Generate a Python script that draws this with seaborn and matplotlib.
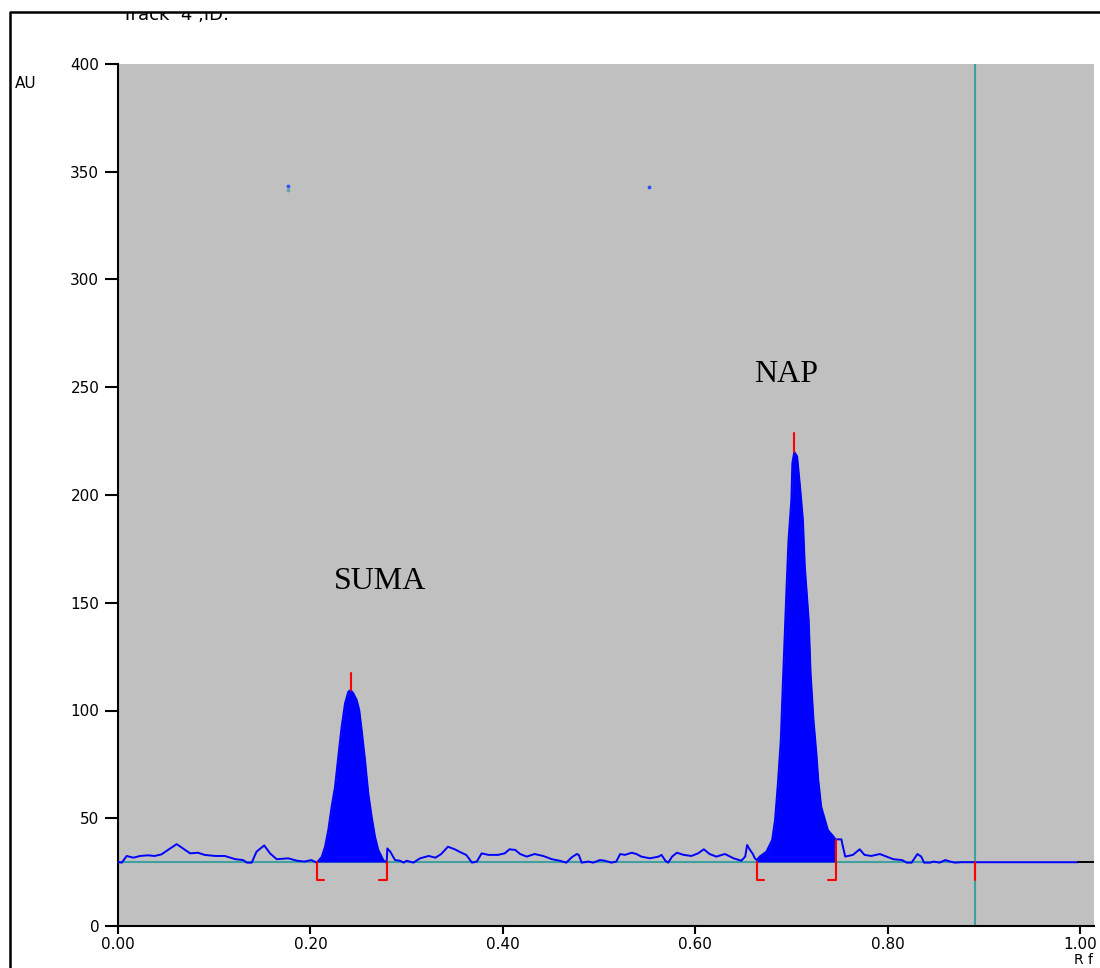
import numpy as np
import pandas as pd
import seaborn as sns
import matplotlib.pyplot as plt
from matplotlib.patches import Rectangle
from matplotlib.lines import Line2D

# densitogram trace (Rf, AU)
rf_pre = [0.000, 0.004, 0.009, 0.016, 0.023, 0.031, 0.038, 0.045, 0.061, 0.075, 0.083, 0.090,
          0.101, 0.111, 0.122, 0.130, 0.134, 0.139, 0.144, 0.152, 0.158, 0.165, 0.177, 0.186,
          0.194, 0.201]
au_pre = [29.7, 29.4, 32.5, 31.7, 32.5, 32.8, 32.5, 33.2, 38.0, 33.7, 34.0, 33.0,
          32.5, 32.5, 31.0, 30.6, 29.4, 29.4, 34.5, 37.4, 33.7, 31.0, 31.4, 30.3,
          29.9, 30.6]

rf_suma = [0.2066, 0.2117, 0.2152, 0.2186, 0.2221, 0.2256, 0.2290, 0.2325, 0.2360, 0.2394,
           0.2419, 0.2446, 0.2481, 0.2508, 0.2533, 0.2568, 0.2602, 0.2637, 0.2672, 0.2706,
           0.2758, 0.2793]
au_suma = [29.4, 32.0, 36.8, 44.5, 55.4, 64.6, 78.6, 92.5, 103.3, 108.7,
           109.5, 108.0, 104.9, 100.2, 91.0, 77.0, 61.6, 50.7, 41.4, 35.3,
           30.6, 29.4]

rf_mid = [0.280, 0.283, 0.288, 0.293, 0.297, 0.300, 0.307, 0.314, 0.323, 0.330, 0.336, 0.343,
          0.350, 0.357, 0.362, 0.368, 0.373, 0.378, 0.385, 0.395, 0.402, 0.407, 0.413, 0.418,
          0.425, 0.433, 0.442, 0.451, 0.459, 0.466, 0.472, 0.477, 0.479, 0.482, 0.489, 0.494,
          0.501, 0.506, 0.513, 0.518, 0.522, 0.527, 0.534, 0.539, 0.544, 0.553, 0.562, 0.565,
          0.569, 0.572, 0.576, 0.581, 0.588, 0.596, 0.603, 0.609, 0.615, 0.622, 0.631, 0.640,
          0.648, 0.652, 0.654, 0.657, 0.660, 0.662]
au_mid = [36.0, 34.5, 30.6, 30.3, 29.4, 30.3, 29.4, 31.4, 32.5, 31.7, 33.4, 36.8,
          35.6, 34.0, 33.0, 29.4, 29.9, 33.7, 33.0, 33.0, 33.7, 35.6, 35.3, 33.4,
          32.2, 33.4, 32.5, 31.0, 30.3, 29.4, 32.0, 33.4, 33.0, 29.4, 29.9, 29.4,
          30.6, 30.3, 29.4, 29.9, 33.4, 33.0, 34.0, 33.4, 32.2, 31.4, 32.2, 33.0,
          30.3, 29.4, 32.2, 34.0, 33.0, 32.5, 33.7, 35.6, 33.4, 32.2, 33.4, 31.4,
          30.3, 32.2, 37.6, 35.3, 33.4, 31.4]

rf_nap = [0.664, 0.667, 0.674, 0.680, 0.683, 0.686, 0.689, 0.691, 0.693, 0.695, 0.697, 0.700,
          0.701, 0.703, 0.706, 0.709, 0.712, 0.714, 0.718, 0.720, 0.723, 0.726, 0.728, 0.731,
          0.735, 0.738, 0.744, 0.746]
au_nap = [30.6, 32.2, 34.5, 39.9, 49.2, 66.2, 86.3, 111.0, 134.2, 157.4, 179.0, 197.7,
          214.7, 220.0, 217.9, 203.9, 188.4, 166.7, 142.0, 117.3, 95.6, 80.1, 67.7, 55.4,
          49.2, 44.5, 41.4, 39.9]

rf_post = [0.747, 0.752, 0.753, 0.756, 0.764, 0.771, 0.776, 0.783, 0.792, 0.799, 0.806, 0.815,
           0.820, 0.825, 0.831, 0.835, 0.838, 0.844, 0.848, 0.854, 0.860, 0.865, 0.870, 0.877,
           0.891, 0.998]
au_post = [40.2, 40.2, 38.0, 32.2, 33.0, 35.6, 33.0, 32.5, 33.4, 32.2, 31.0, 30.6,
           29.4, 29.4, 33.4, 32.2, 29.4, 29.4, 29.9, 29.4, 30.6, 29.9, 29.4, 29.6,
           29.6, 29.6]

baseline = 29.7
front_rf = 0.891
peak_names = ["SUMA", "NAP"]
peak_label_pos = [(0.272, 160), (0.695, 256)]
peak_top = [(0.2419, 109.5, 117.4), (0.703, 220.0, 228.8)]
peak_bounds = [(0.2066, 29.7, 0.2793, 29.7), (0.664, 29.7, 0.746, 39.9)]

trace = pd.DataFrame({
    "Rf": rf_pre + rf_suma + rf_mid + rf_nap + rf_post,
    "AU": au_pre + au_suma + au_mid + au_nap + au_post,
})

sns.set_style("white")
plt.rcParams["font.family"] = ["DejaVu Sans"]
plt.rcParams["text.color"] = "black"
plt.rcParams["xtick.color"] = "black"
plt.rcParams["ytick.color"] = "black"

fig = plt.figure(figsize=(11, 9.68), dpi=100)
ax = fig.add_axes([118 / 1100, 42 / 968, 976 / 1100, 862 / 968])
ax.set_facecolor("#C0C0C0")

# baseline + solvent front
ax.plot([0, front_rf], [baseline, baseline], color="#40A0A0", lw=1.5, zorder=2)
ax.axvline(front_rf, color="#40A0A0", lw=1.5, zorder=2)

# filled peaks
ax.fill_between(rf_suma, baseline, au_suma, color="#0000FF", lw=0, zorder=3)
ax.fill_between(rf_nap, baseline, au_nap, color="#0000FF", lw=0, zorder=3)

sns.lineplot(data=trace, x="Rf", y="AU", sort=False, estimator=None, color="#0000FF",
             lw=1.4, ax=ax, zorder=4)
ax.plot([0.998, 1.0146], [baseline, baseline], color="black", lw=1.4, zorder=4)

# red integration markers
for x, y0, y1 in peak_top:
    ax.plot([x, x], [y0, y1], color="#FF0000", lw=1.5, zorder=5)
for x0, y0, x1, y1 in peak_bounds:
    ax.plot([x0, x0, x0 + 0.008], [y0, 21.3, 21.3], color="#FF0000", lw=1.5, zorder=5)
    ax.plot([x1, x1, x1 - 0.008], [y1, 21.3, 21.3], color="#FF0000", lw=1.5, zorder=5)
ax.plot([front_rf, front_rf], [baseline, 21.3], color="#FF0000", lw=1.5, zorder=5)

# stray pixels on the scan
ax.scatter([0.177, 0.552], [343.4, 343.0], s=3, color="#3050FF", zorder=5)
ax.scatter([0.177], [341.3], s=3, color="#60A8A8", zorder=5)

for name, (x, y) in zip(peak_names, peak_label_pos):
    ax.text(x, y, name, ha="center", va="center", fontsize=23, color="black",
            family=["Liberation Serif", "DejaVu Serif"], zorder=6)

ax.set_xlim(0, 1.0146)
ax.set_ylim(0, 400)
ax.set_xticks([0, 0.2, 0.4, 0.6, 0.8, 1.0])
ax.set_xticklabels(["0.00", "0.20", "0.40", "0.60", "0.80", "1.00"])
ax.set_yticks(range(0, 401, 50))
ax.set_xlabel("")
ax.set_ylabel("")
for side in ["top", "right"]:
    ax.spines[side].set_visible(False)
for side in ["left", "bottom"]:
    ax.spines[side].set_color("black")
    ax.spines[side].set_linewidth(1.5)
ax.tick_params(axis="y", direction="out", length=9.5, width=1.5, pad=4, labelsize=11,
               left=True, colors="black")
ax.tick_params(axis="x", direction="out", length=6, width=1.5, pad=2, labelsize=11,
               bottom=True, colors="black")

fig.text(15 / 1100, 1 - 83 / 968, "AU", ha="left", va="center", fontsize=11)
fig.text(1074 / 1100, 1 - 953 / 968, "R f", ha="left", va="top", fontsize=10)
fig.text(176 / 1100, 1 - 20 / 968, "Track  4 ,ID:", ha="center", va="baseline",
         fontsize=13, zorder=3)

# page frame (clips the header)
fig.patches.append(Rectangle((0, 1 - 12 / 968), 1, 12 / 968, transform=fig.transFigure,
                             facecolor="white", edgecolor="none", zorder=4))
fig.lines.append(Line2D([10 / 1100, 10 / 1100, 1], [0, 1 - 12 / 968, 1 - 12 / 968],
                        transform=fig.transFigure, color="black", lw=1.8, zorder=5))

fig.savefig("out.png", dpi=100)
